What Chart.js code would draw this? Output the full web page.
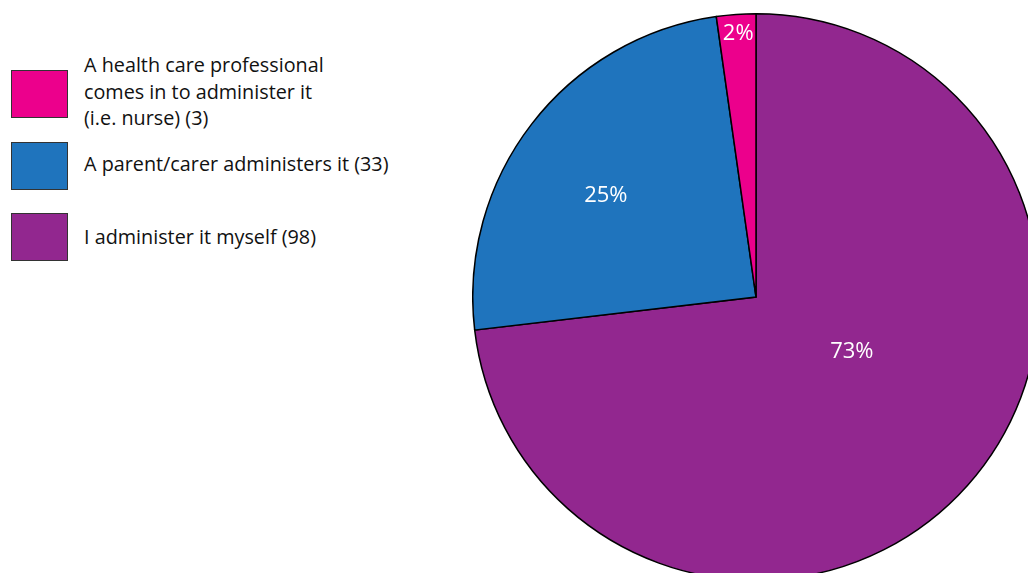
<!DOCTYPE html>
<html>
<head>
<meta charset="utf-8">
<script src="https://cdn.jsdelivr.net/npm/chart.js@4/dist/chart.umd.min.js"></script>
<style>
  html, body { margin: 0; padding: 0; background: #fff; width: 1028px; height: 573px; overflow: hidden; }
  #pieWrap { position: absolute; left: 472px; top: 13px; width: 568px; height: 568px; }
  #legend { position: absolute; left: 0; top: 0; font-family: "Open Sans", sans-serif; font-size: 19.8px; color: #111; }
  .item { position: absolute; left: 11px; width: 420px; }
  .swatch { position: absolute; left: 0; top: 0; width: 55px; height: 46px; border: 1px solid #333; }
  .text { position: absolute; left: 73px; line-height: 26.5px; white-space: nowrap; }
</style>
</head>
<body>
<div id="legend"></div>
<div id="pieWrap"><canvas id="pie" width="568" height="568"></canvas></div>
<script>
// Answers, in legend order
const categories = [
  ["A health care professional", "comes in to administer it", "(i.e. nurse) (3)"],
  ["A parent/carer administers it (33)"],
  ["I administer it myself (98)"]
];
const counts = [3, 33, 98];
const percentLabels = ["2%", "25%", "73%"];
const colors = ["#EC008C", "#1F74BD", "#92278F"];

// Legend rows (HTML text)
const legend = document.getElementById('legend');
const itemTops = [70, 142, 213];
const textTops = [-18, 9, 11];
categories.forEach((lines, i) => {
  const item = document.createElement('div');
  item.className = 'item';
  item.style.top = itemTops[i] + 'px';
  const sw = document.createElement('div');
  sw.className = 'swatch';
  sw.style.background = colors[i];
  const tx = document.createElement('div');
  tx.className = 'text';
  tx.style.top = textTops[i] + 'px';
  tx.innerHTML = lines.join('<br>');
  item.appendChild(sw);
  item.appendChild(tx);
  legend.appendChild(item);
});

// The pie runs clockwise from 12 o'clock: largest slice first
const order = [2, 1, 0];
const pieData = order.map(i => counts[i]);
const pieColors = order.map(i => colors[i]);
const pieLabels = order.map(i => percentLabels[i]);

// Where each percentage sits: fraction along the slice's sweep, fraction of radius
const labelPlacement = [
  { along: 0.455, radius: 0.39 },
  { along: 0.46, radius: 0.64 },
  { along: 0.52, radius: 0.93 }
];

const sliceLabels = {
  id: 'sliceLabels',
  afterDatasetsDraw(chart) {
    const ctx = chart.ctx;
    const meta = chart.getDatasetMeta(0);
    ctx.save();
    ctx.fillStyle = '#fff';
    ctx.font = '22px "Open Sans", sans-serif';
    ctx.textAlign = 'center';
    ctx.textBaseline = 'middle';
    meta.data.forEach((arc, i) => {
      const p = arc.getProps(['x', 'y', 'startAngle', 'endAngle', 'outerRadius'], true);
      const pl = labelPlacement[i];
      const a = p.startAngle + pl.along * (p.endAngle - p.startAngle);
      const r = pl.radius * p.outerRadius;
      ctx.fillText(pieLabels[i], p.x + r * Math.cos(a), p.y + r * Math.sin(a));
    });
    ctx.restore();
  }
};

new Chart(document.getElementById('pie'), {
  type: 'pie',
  data: {
    labels: pieLabels,
    datasets: [{
      data: pieData,
      backgroundColor: pieColors,
      borderColor: '#000',
      borderWidth: 1.5,
      borderJoinStyle: 'miter'
    }]
  },
  options: {
    responsive: false,
    animation: false,
    devicePixelRatio: 1,
    layout: { padding: 0 },
    plugins: { legend: { display: false }, tooltip: { enabled: false } }
  },
  plugins: [sliceLabels]
});
</script>
</body>
</html>
